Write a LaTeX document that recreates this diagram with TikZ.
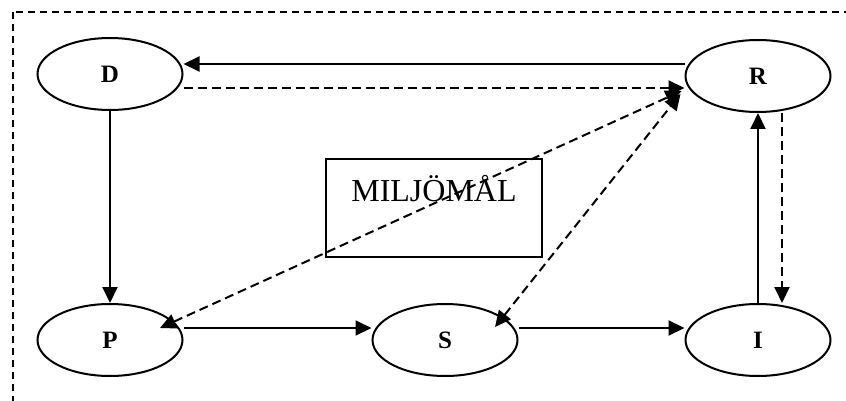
\documentclass[tikz,border=0pt]{standalone}
\usepackage{fontspec}
\setmainfont{Liberation Serif}
\usetikzlibrary{positioning, arrows.meta, shapes.geometric, calc}

\begin{document}
\begin{tikzpicture}[x=0.5pt, y=-0.5pt,
    stage/.style={ellipse, draw, line width=1pt, minimum width=72.5pt, minimum height=36pt, inner sep=0pt, font=\fontsize{12.5}{15}\selectfont\bfseries},
    flow/.style={-{Triangle[length=8pt,width=7.5pt]}, line width=1pt},
    link/.style={flow, dash pattern=on 4.5pt off 2.5pt},
    twoway/.style={link, {Triangle[length=8pt,width=7.5pt]}-{Triangle[length=8pt,width=7.5pt]}},
    frame/.style={line width=1pt, dash pattern=on 3.5pt off 2.5pt}]
    \clip (0,0) rectangle (846,401);
    \draw[frame] (13,12) rectangle (880,440);

    \node[stage] (D) at (110,74) {D};
    \node[stage] (R) at (758,76) {R};
    \node[stage] (P) at (110,340) {P};
    \node[stage] (S) at (445,340) {S};
    \node[stage] (I) at (758,340) {I};
    \node[draw, line width=1.3pt, minimum width=108pt, minimum height=49pt] (goal) at (434,208) {};
    \node[font=\fontsize{16}{19}\selectfont] (goaltext) at (434,189) {MILJÖMÅL};

    \draw[flow] (R.west |- 0,64) -- (D.east |- 0,64);
    \draw[link] (D.east |- 0,88) -- (R.west |- 0,88);
    \draw[flow] (D) -- (P);
    \draw[flow] (P.east |- 0,328) -- (S.west |- 0,328);
    \draw[flow] (S.east |- 0,328) -- (I.west |- 0,328);
    \draw[flow] (I.north) -- (R.south);
    \draw[link] (R.south -| 782,0) -- (I.north -| 782,0);
    % diagonals through the goal box
    \draw[twoway] ([shift={(50,-12)}]P.center) -- ([shift={(-3,15)}]R.west);
    \draw[twoway] ([shift={(50,-13)}]S.center) -- ([shift={(-4,18)}]R.west);
\end{tikzpicture}
\end{document}
